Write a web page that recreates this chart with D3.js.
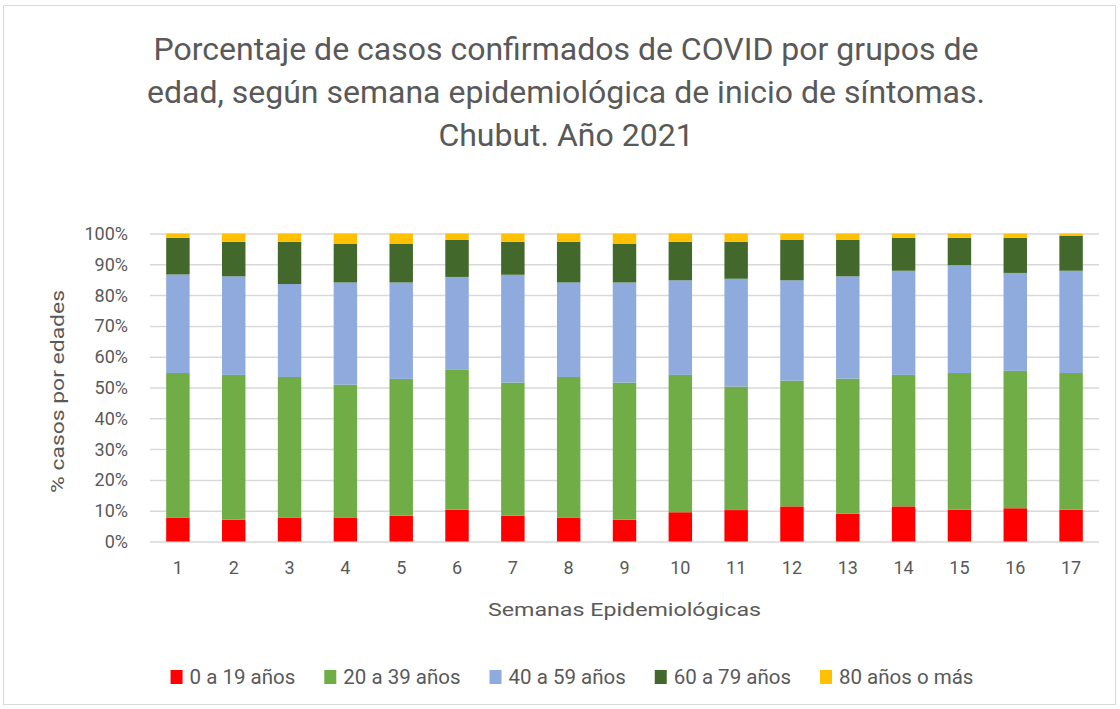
<!DOCTYPE html>
<html>
<head>
  <meta charset="utf-8">
  <script src="https://cdn.jsdelivr.net/npm/d3@7"></script>
  <style>
    body { margin: 0; background: #fff; }
    text { font-family: Roboto, "Liberation Sans", sans-serif; fill: #595959; }
    .grid line { stroke: #d9d9d9; stroke-width: 1.5; }
    .grid path { display: none; }
  </style>
</head>
<body>
  <svg width="1120" height="709"></svg>
  <script>
    // semanas epidemiologicas
    var weeks = ["1","2","3","4","5","6","7","8","9","10","11","12","13","14","15","16","17"];

    // porcentaje de cada grupo de edad por semana
    var age0_19  = [7.8, 7.1, 7.8, 7.8, 8.4, 10.3, 8.4, 7.8, 7.1, 9.5, 10.2, 11.4, 9.0, 11.4, 10.3, 10.8, 10.3];
    var age20_39 = [46.9, 47.0, 45.6, 43.1, 44.4, 45.6, 43.2, 45.6, 44.5, 44.6, 40.1, 40.8, 43.9, 42.7, 44.4, 44.6, 44.4];
    var age40_59 = [32.0, 32.0, 30.2, 33.2, 31.3, 30.0, 35.0, 30.7, 32.5, 30.7, 35.0, 32.6, 33.2, 33.8, 35.0, 31.8, 33.2];
    var age60_79 = [11.9, 11.2, 13.7, 12.5, 12.5, 12.0, 10.7, 13.2, 12.5, 12.5, 12.0, 13.1, 11.8, 10.7, 8.9, 11.4, 11.3];
    var age80    = [1.4, 2.7, 2.7, 3.4, 3.4, 2.1, 2.7, 2.7, 3.4, 2.7, 2.7, 2.1, 2.1, 1.4, 1.4, 1.4, 0.8];

    var seriesNames = ["0 a 19 años", "20 a 39 años", "40 a 59 años", "60 a 79 años", "80 años o más"];
    var seriesColors = ["#ff0000", "#70ad47", "#8faadc", "#43682b", "#ffc000"];
    var yTicks = [0, 10, 20, 30, 40, 50, 60, 70, 80, 90, 100];

    var titleLines = [
      "Porcentaje de casos confirmados de COVID por grupos de",
      "edad, según semana epidemiológica de inicio de síntomas.",
      "Chubut. Año 2021"
    ];

    var svg = d3.select("svg");

    // borde del grafico
    svg.append("rect")
      .attr("x", 3.5).attr("y", 5.5)
      .attr("width", 1112).attr("height", 699)
      .attr("fill", "none")
      .attr("stroke", "#d9d9d9");

    var plotLeft = 150, plotRight = 1099, plotTop = 233.5, plotBottom = 541.5;

    var x = d3.scaleBand().domain(weeks).range([plotLeft, plotRight])
      .paddingInner(0.58).paddingOuter(0.29);
    var y = d3.scaleLinear().domain([0, 100]).range([plotBottom, plotTop]);

    // tabla para el stack
    var table = weeks.map(function(w, i) {
      var row = { week: w };
      row[seriesNames[0]] = age0_19[i];
      row[seriesNames[1]] = age20_39[i];
      row[seriesNames[2]] = age40_59[i];
      row[seriesNames[3]] = age60_79[i];
      row[seriesNames[4]] = age80[i];
      return row;
    });
    var stacked = d3.stack().keys(seriesNames)(table);

    // lineas de cuadricula
    svg.append("g")
      .attr("class", "grid")
      .attr("transform", "translate(" + plotLeft + ",0)")
      .call(d3.axisRight(y).tickValues(yTicks).tickSize(plotRight - plotLeft).tickFormat(""));

    // etiquetas eje Y
    svg.append("g")
      .selectAll("text")
      .data(yTicks)
      .enter().append("text")
      .attr("x", 128)
      .attr("y", function(d) { return y(d); })
      .attr("dy", "0.36em")
      .attr("text-anchor", "end")
      .style("font-size", "18px")
      .text(function(d) { return d + "%"; });

    // barras
    svg.append("g")
      .selectAll("g")
      .data(stacked)
      .enter().append("g")
      .attr("fill", function(d, i) { return seriesColors[i]; })
      .selectAll("rect")
      .data(function(d) { return d; })
      .enter().append("rect")
      .attr("x", function(d) { return x(d.data.week); })
      .attr("y", function(d) { return y(d[1]); })
      .attr("width", x.bandwidth())
      .attr("height", function(d) { return y(d[0]) - y(d[1]); });

    // etiquetas eje X
    svg.append("g")
      .selectAll("text")
      .data(weeks)
      .enter().append("text")
      .attr("x", function(d) { return x(d) + x.bandwidth() / 2; })
      .attr("y", 574)
      .attr("text-anchor", "middle")
      .style("font-size", "18px")
      .text(function(d) { return d; });

    // titulos de ejes
    svg.append("text")
      .attr("x", (plotLeft + plotRight) / 2)
      .attr("y", 616)
      .attr("text-anchor", "middle")
      .attr("textLength", 273)
      .attr("lengthAdjust", "spacingAndGlyphs")
      .style("font-size", "19px")
      .text("Semanas Epidemiológicas");

    svg.append("text")
      .attr("transform", "translate(64," + ((plotTop + plotBottom) / 2 + 4) + ") rotate(-90)")
      .attr("text-anchor", "middle")
      .attr("textLength", 203)
      .attr("lengthAdjust", "spacingAndGlyphs")
      .style("font-size", "19px")
      .text("% casos por edades");

    // titulo
    svg.append("g")
      .selectAll("text")
      .data(titleLines)
      .enter().append("text")
      .attr("x", 566)
      .attr("y", function(d, i) { return 60 + i * 43; })
      .attr("text-anchor", "middle")
      .style("font-size", "32px")
      .text(function(d) { return d; });

    // leyenda
    var legend = svg.append("g");
    var items = legend.selectAll("g")
      .data(seriesNames)
      .enter().append("g");
    items.append("rect")
      .attr("width", 12).attr("height", 14)
      .attr("y", 670)
      .attr("fill", function(d, i) { return seriesColors[i]; });
    items.append("text")
      .attr("x", 19)
      .attr("y", 684)
      .style("font-size", "20.5px")
      .text(function(d) { return d; });

    var offset = 0, widths = [];
    items.each(function() {
      var w = 19 + d3.select(this).select("text").node().getComputedTextLength();
      widths.push(offset);
      offset += w + 29;
    });
    var total = offset - 29;
    var start = 572 - total / 2;
    items.attr("transform", function(d, i) { return "translate(" + (start + widths[i]) + ",0)"; });
  </script>
</body>
</html>
